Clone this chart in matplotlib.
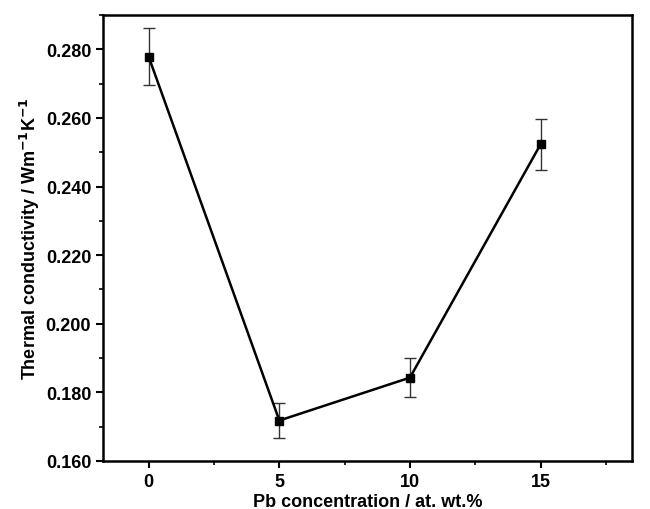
import matplotlib
matplotlib.use("Agg")
import matplotlib.pyplot as plt
from matplotlib.ticker import MultipleLocator

# data
pb_conc = [0, 5, 10, 15]
kappa = [0.2778, 0.1718, 0.1843, 0.2523]
kappa_err = [0.0083, 0.0051, 0.0056, 0.0075]

plt.rcParams['font.family'] = ['Liberation Sans', 'DejaVu Sans']
plt.rcParams['font.weight'] = 'bold'

fig = plt.figure(figsize=(6.5, 5.1), dpi=100)
ax = fig.add_axes([103 / 650, 48 / 510, 529 / 650, 446 / 510])

ax.errorbar(pb_conc, kappa, yerr=kappa_err, color='black', marker='s', markersize=6,
            linewidth=1.8, elinewidth=1, capsize=4, capthick=1, ecolor='#333333')

ax.set_xlim(-1.75, 18.5)
ax.set_ylim(0.16, 0.29)
ax.set_xticks(pb_conc)
ax.xaxis.set_minor_locator(MultipleLocator(2.5))
ax.yaxis.set_major_locator(MultipleLocator(0.02))
ax.yaxis.set_minor_locator(MultipleLocator(0.01))
ax.yaxis.set_major_formatter(plt.FormatStrFormatter('%.3f'))

for s in ax.spines.values():
    s.set_linewidth(1.8)
ax.tick_params(which='major', length=5, width=1.5, labelsize=13)
ax.tick_params(which='minor', length=3, width=1.2)

ax.set_xlabel('Pb concentration / at. wt.%', fontsize=13, fontweight='bold', labelpad=2)
ax.set_ylabel(r'Thermal conductivity / Wm$^{\mathbf{-1}}$K$^{\mathbf{-1}}$', fontsize=13,
              fontweight='bold', labelpad=3)

fig.savefig('out.png', dpi=100)
